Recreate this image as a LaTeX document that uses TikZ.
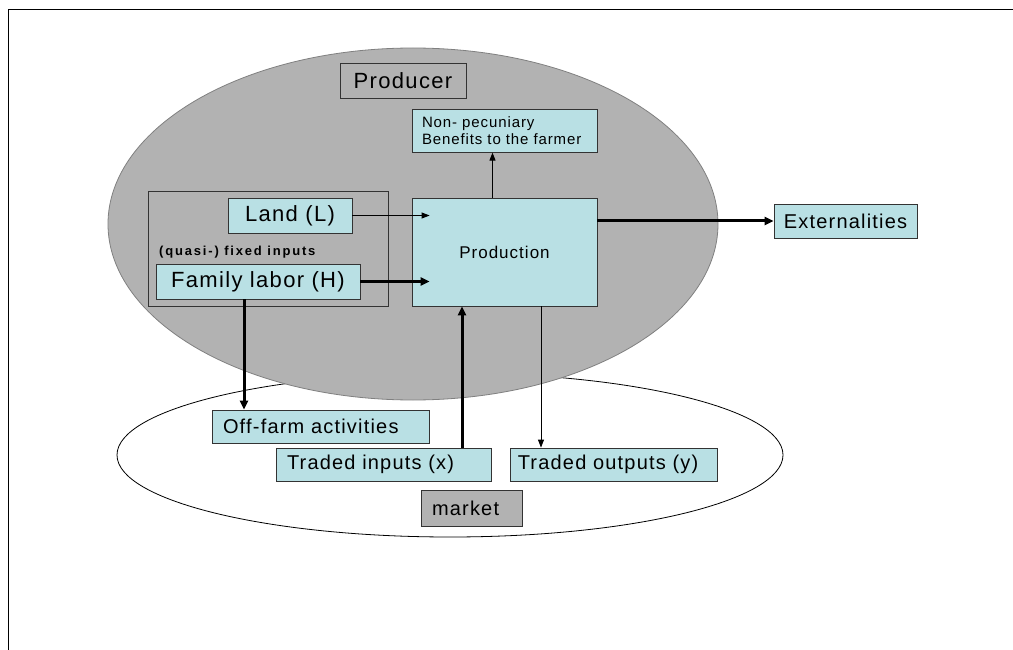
\documentclass[tikz,border=0pt]{standalone}
\usepackage{fontspec}
\setmainfont{Liberation Sans}[LetterSpace=6]
\usetikzlibrary{positioning, shapes.geometric, arrows.meta, calc}
\definecolor{boxcyan}{RGB}{185,224,228}
\definecolor{areagrey}{RGB}{178,178,178}

\begin{document}
\begin{tikzpicture}[
  x=1pt, y=-1pt,
  area/.style={ellipse, inner sep=0pt, line width=0.8pt},
  inbox/.style={rectangle, draw=black!80, fill=boxcyan, line width=0.8pt, inner xsep=11pt, align=left, font=\fontsize{20}{24}\selectfont},
  greybox/.style={rectangle, draw=black!80, fill=areagrey, line width=0.8pt, inner xsep=11pt, align=left, font=\fontsize{20}{24}\selectfont},
  bigtext/.style={font=\fontsize{22}{26}\selectfont},
  flow/.style={-{Triangle[length=8pt,width=6pt]}, line width=0.9pt},
  bigflow/.style={-{Triangle[length=9pt,width=8pt]}, line width=3pt},
  node distance=45pt,
]
\useasboundingbox (0,0) rectangle (1013,650);
\draw[line width=1pt] (8,650) -- (8,10) -- (1013,10);

%%% Areas
\node[area, draw=black, fill=white, minimum width=666pt, minimum height=164pt] (marketarea) at (450,455) {};
\node[area, draw=black!50, fill=areagrey, minimum width=610pt, minimum height=352pt] (producerarea) at (413,224) {};

%%% Nodes
\node[greybox, bigtext, minimum width=126pt, minimum height=35pt, inner xsep=6pt] (producer) at (403,80.5) {Producer};
\node[inbox, minimum width=185pt, minimum height=108pt, font=\fontsize{17}{20}\selectfont] (prod) at (504.5,252) {Production};
\node[inbox, text width=165pt, inner xsep=10pt, minimum height=43pt, font=\fontsize{15}{17}\selectfont] (benefit) [above=45pt of prod] {Non- pecuniary\\Benefits to the farmer};
\node[greybox, minimum width=240pt, minimum height=115pt] (fixed) at (268,248.5) {};
\node[inbox, bigtext, minimum width=124pt, minimum height=35pt, inner xsep=6pt] (land) at (290,215.5) {Land (L)};
\node[inbox, bigtext, minimum width=204pt, minimum height=35pt, inner xsep=6pt] (family) at (258,281.5) {Family labor (H)};
\node[anchor=west, inner sep=0pt, font=\fontsize{13}{15}\selectfont\bfseries\addfontfeature{LetterSpace=14}] (fixedlabel) at (159,252) {(quasi-) fixed inputs};
\node[inbox, minimum width=143pt, minimum height=34pt, inner xsep=6pt] (extern) at (845.5,221) {Externalities};
\node[inbox, text width=195pt, minimum height=33pt] (offfarm) at (320.5,426.5) {Off-farm activities};
\node[inbox, text width=193pt, minimum height=33pt] (tradin) at (383.5,464.5) {Traded inputs (x)};
\node[inbox, text width=193pt, inner xsep=7pt, minimum height=33pt] (tradout) [right=19pt of tradin] {Traded outputs (y)};
\node[greybox, text width=79pt, minimum height=36pt] (market) at (471.5,508) {market};

%%% Arrows
\draw[flow] (land.east) -- ($(land.east -| prod.west)+(18,0)$);
\draw[bigflow] (family.east) -- ($(family.east -| prod.west)+(18,0)$);
\draw[flow] ($(prod.north)+(-12,0)$) -- ($(benefit.south)+(-12,0)$);
\draw[bigflow] (extern.west -| prod.east) -- (extern.west);
\draw[bigflow] ($(family.south)+(-14,0)$) -- ($(family.south |- offfarm.north)+(-14,0)$);
\draw[bigflow] ($(prod.south |- tradin.north)+(-42.5,0)$) -- ($(prod.south)+(-42.5,0)$);
\draw[flow] ($(prod.south)+(36.5,0)$) -- ($(prod.south |- tradout.north)+(36.5,0)$);

\end{tikzpicture}
\end{document}
